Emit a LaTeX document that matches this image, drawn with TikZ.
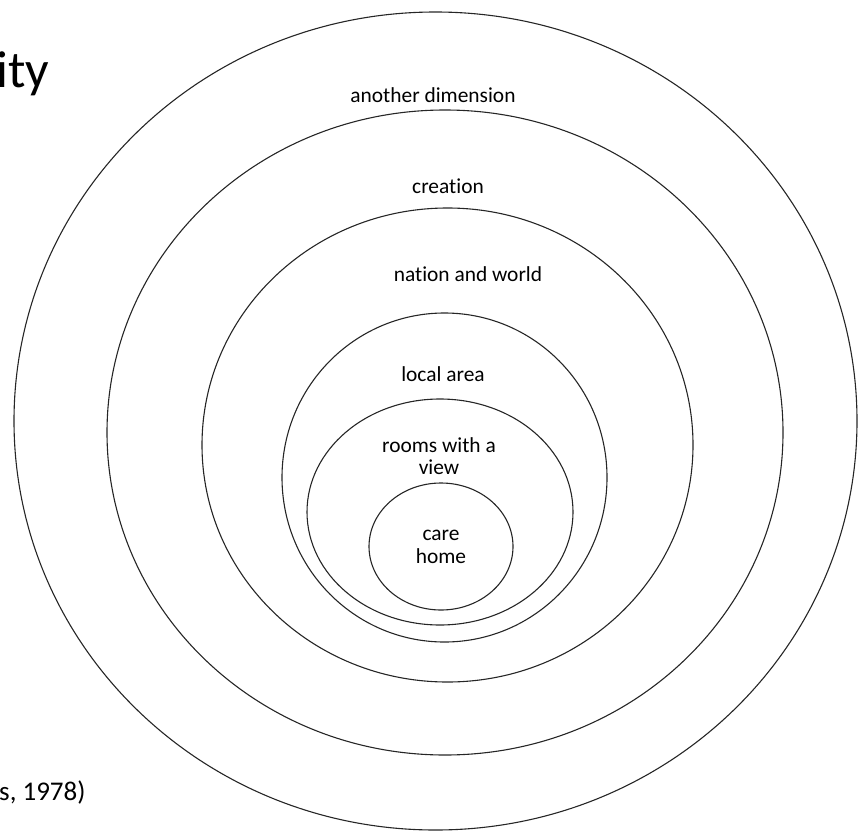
\documentclass[tikz,border=0pt]{standalone}
\usepackage{fontspec}
\setmainfont{Carlito}[Ligatures=NoCommon]
\usetikzlibrary{shapes.geometric}

\begin{document}
\begin{tikzpicture}[x=1pt,y=-1pt]
  \tikzset{
    ring/.style={ellipse,draw=black!85,line width=1.1pt,inner sep=0pt,outer sep=0pt},
    lbl/.style={font=\fontsize{21.4}{22.5}\selectfont,align=center,inner sep=0pt},
    cut/.style={inner sep=0pt,anchor=base west}
  }
  \clip (0,0) rectangle (858,832);

  % nested spheres, outermost first
  \node[ring,minimum width=843pt,minimum height=818pt] (dim)  at (435.5,421) {};
  \node[ring,minimum width=676pt,minimum height=645pt] (crea) at (445,432.5) {};
  \node[ring,minimum width=491pt,minimum height=474pt] (natn) at (447.5,445) {};
  \node[ring,minimum width=325pt,minimum height=329pt] (locl) at (444.5,477.5) {};
  \node[ring,minimum width=266pt,minimum height=226pt] (room) at (440,512) {};
  \node[ring,minimum width=144pt,minimum height=127pt] (care) at (441,546.5) {};

  \node[lbl] (tdim)  at (433,95)  {another dimension};
  \node[lbl] (tcrea) at (448,186) {creation};
  \node[lbl] (tnatn) at (468,274) {nation and world};
  \node[lbl] (tlocl) at (443,374) {local area};
  \node[lbl] (troom) at (439,456) {rooms with a\\view};
  \node[lbl] (tcare) at (441,547) {care\\home};

  % text running off the left edge
  \node[cut,font=\fontsize{52}{60}\selectfont] (ttl) at (-4,88) {ity};
  \node[cut,font=\fontsize{27}{32}\selectfont] (src) at (-1,800) {s, 1978)};
\end{tikzpicture}
\end{document}
